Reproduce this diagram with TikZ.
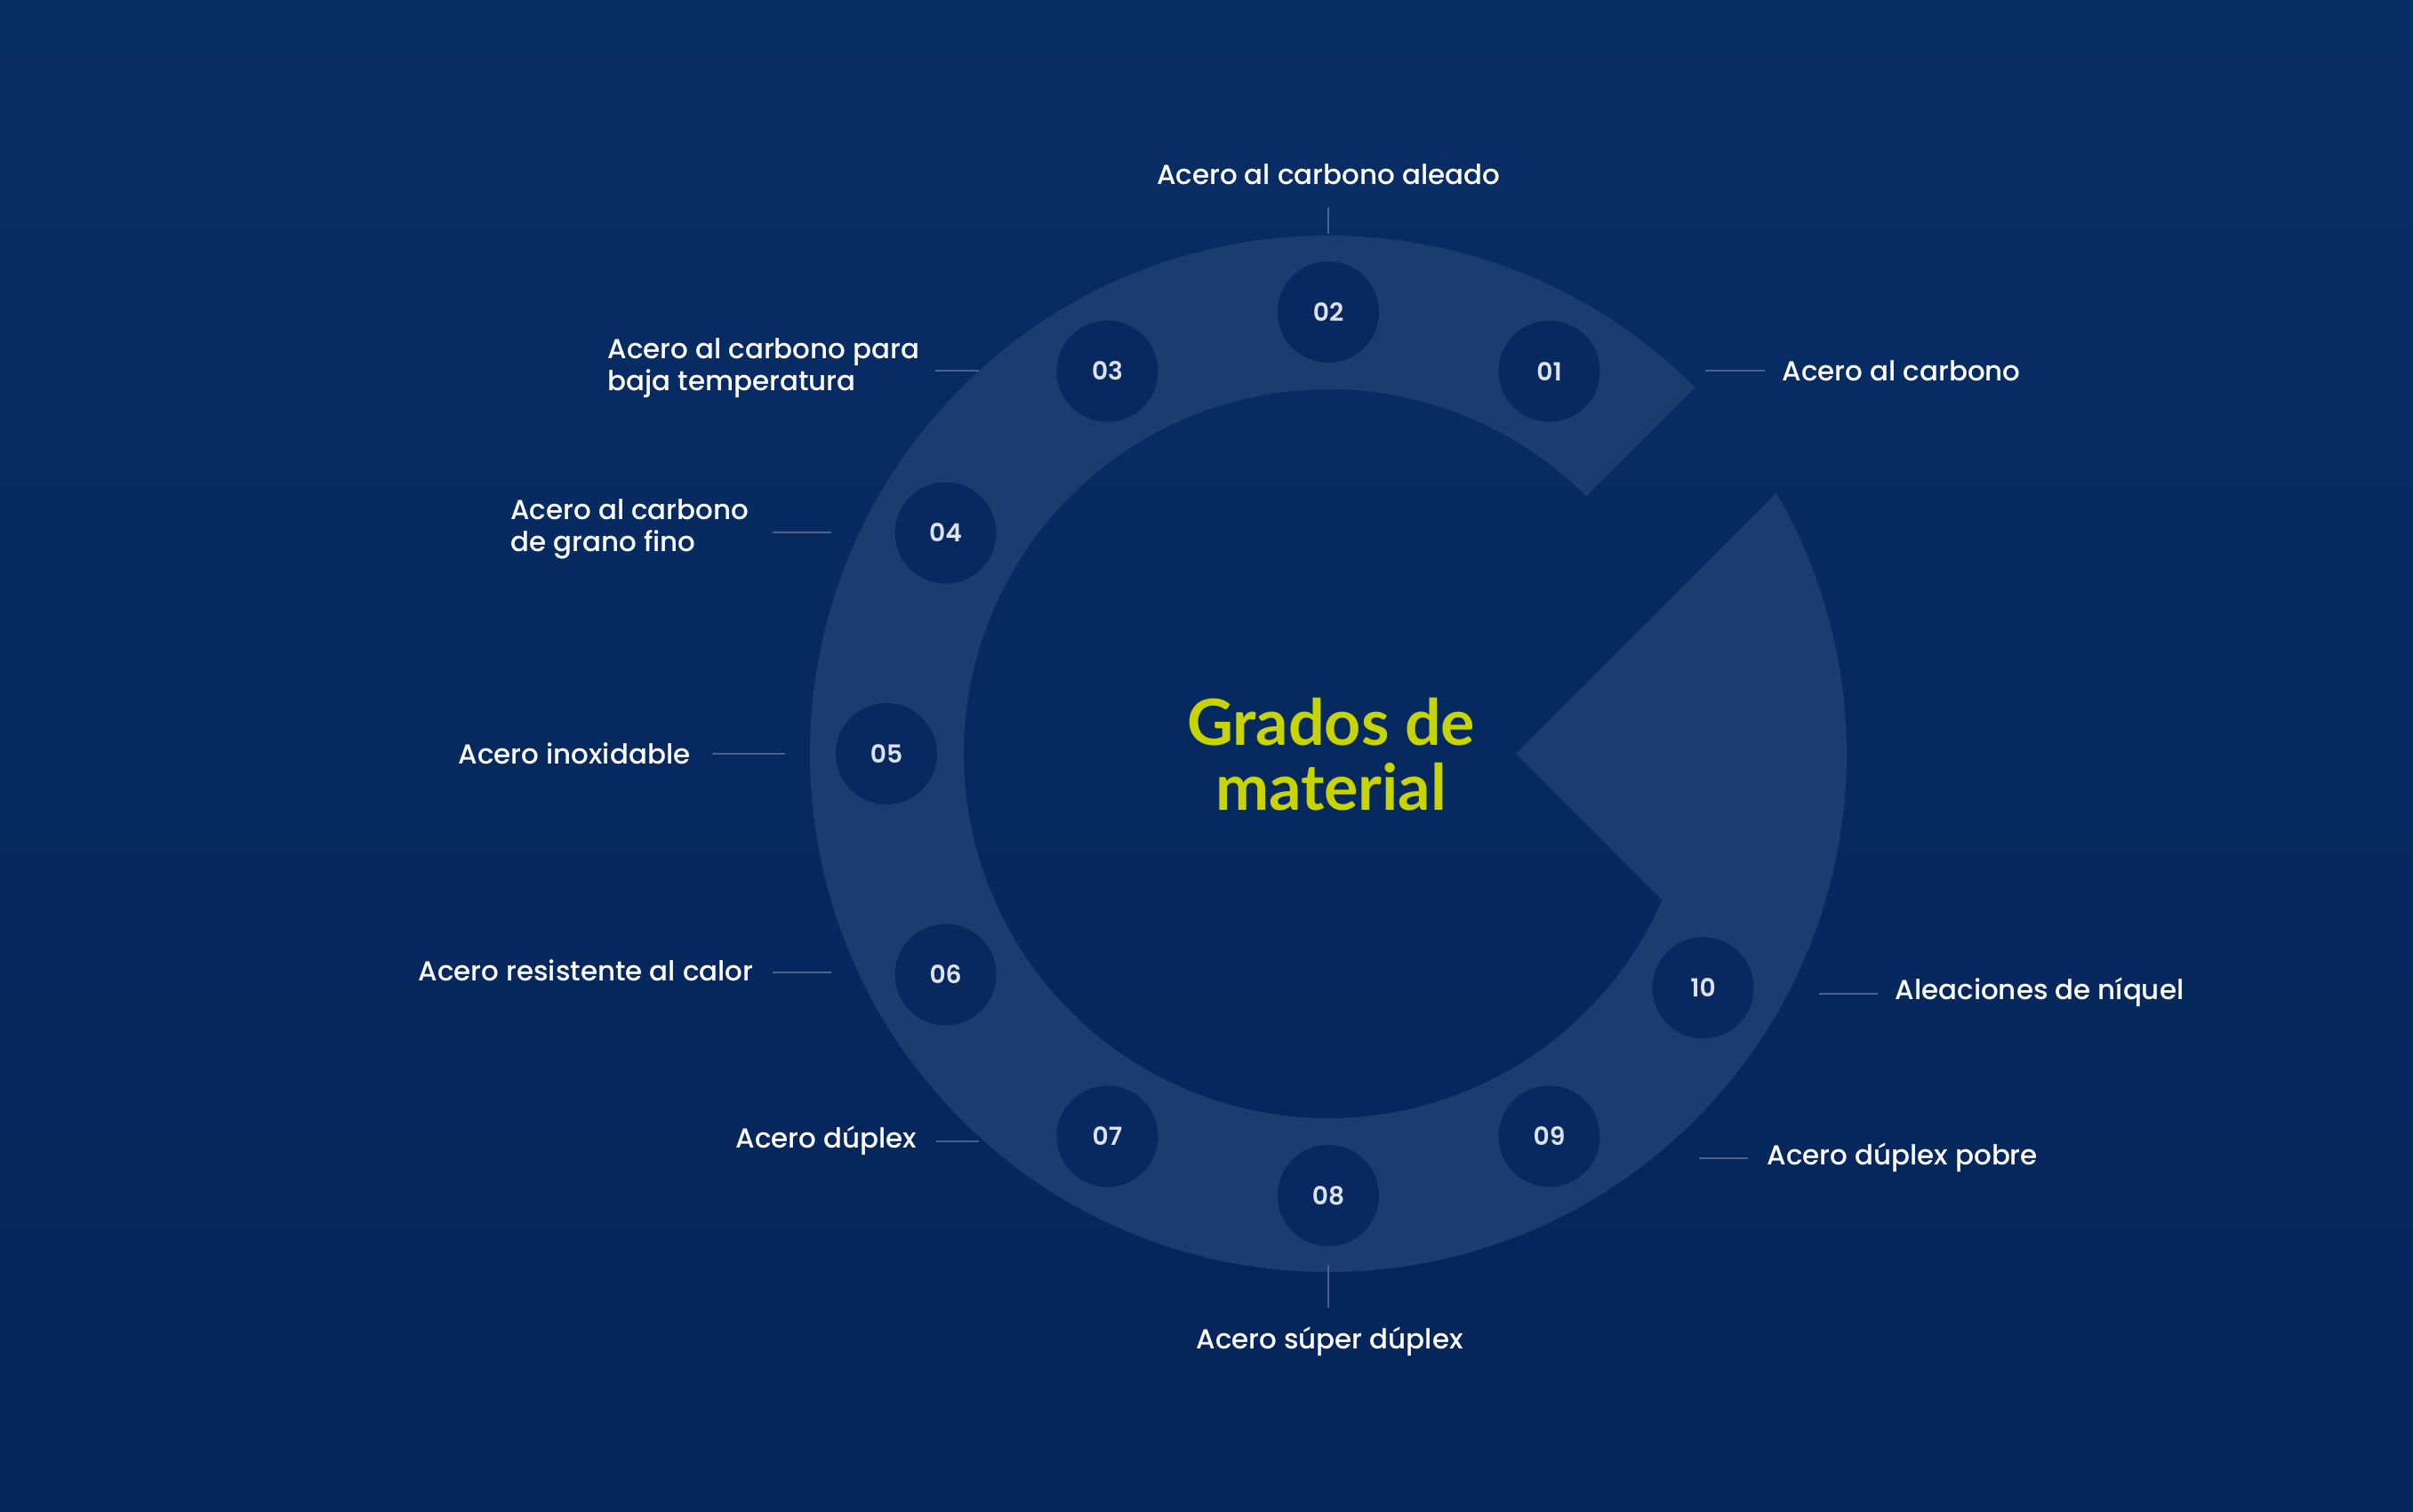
\documentclass[tikz,border=0pt]{standalone}
\usepackage{fontspec}
\usetikzlibrary{calc}
\newfontfamily\lblfont{Poppins Medium}
\newfontfamily\numfont{Poppins SemiBold}
\newfontfamily\ttlfont{Lato}
\definecolor{bgblue}{HTML}{06295F}
\definecolor{bgtop}{HTML}{082E66}
\definecolor{bgbot}{HTML}{05255A}
\definecolor{ringblue}{HTML}{1C3B6F}
\definecolor{dotblue}{HTML}{07295F}
\definecolor{numgrey}{HTML}{DDE1EA}
\definecolor{leadgrey}{HTML}{4A6290}
\definecolor{limegreen}{HTML}{C8D400}
\begin{document}
\begin{tikzpicture}

\tikzset{numdot/.style={circle, fill=dotblue, minimum size=1.14cm, inner sep=0pt, text=numgrey, font=\numfont\fontsize{8}{9}\selectfont},
lbl/.style={inner sep=0pt, text=white, align=left, font=\lblfont\fontsize{8.8}{10.3}\selectfont},
%thin leader from the ring to its label
leader/.style={draw=leadgrey, line width=0.5pt}}

\shade [top color=bgtop, bottom color=bgbot, middle color=bgblue] (0,0) rectangle (27.14,17);
\useasboundingbox (0,0) rectangle (27.14,17);

\coordinate (c) at (14.94,8.52);

\fill [ringblue] ($(c)+(45:5.83)$) arc [start angle=45, end angle=390.2, radius=5.83] -- ($(c)+(2.11,0)$) -- ($(c)+(-23.7:4.10)$) arc [start angle=-23.7, end angle=-315, radius=4.10] -- cycle;

\node [numdot] (n01) at ($(c)+(60:4.97)$) {01};
\node [numdot] (n02) at ($(c)+(90:4.97)$) {02};
\node [numdot] (n03) at ($(c)+(120:4.97)$) {03};
\node [numdot] (n04) at ($(c)+(150:4.97)$) {04};
\node [numdot] (n05) at ($(c)+(180:4.97)$) {05};
\node [numdot] (n06) at ($(c)+(210:4.97)$) {06};
\node [numdot] (n07) at ($(c)+(240:4.97)$) {07};
\node [numdot] (n08) at ($(c)+(270:4.97)$) {08};
\node [numdot] (n09) at ($(c)+(300:4.97)$) {09};
\node [numdot] (n10) at ($(c)+(328:4.97)$) {10};

\node [align=center, text=limegreen, font=\ttlfont\bfseries\fontsize{20.4}{20.8}\selectfont] (ttl) at (14.97,8.51) {Grados de\\material};

\node [lbl, anchor=west] (t01) at (20.04,12.83) {Acero al carbono};
\node [lbl, anchor=south] (t02) at (14.94,14.92) {Acero al carbono aleado};
\node [lbl, anchor=east] (t03) at (10.35,12.86) {Acero al carbono para\\baja temperatura};
\node [lbl, anchor=east] (t04) at (8.43,11.05) {Acero al carbono\\de grano fino};
\node [lbl, anchor=east] (t05) at (7.77,8.52) {Acero inoxidable};
\node [lbl, anchor=east] (t06) at (8.48,6.08) {Acero resistente al calor};
\node [lbl, anchor=east] (t07) at (10.32,4.17) {Acero dúplex};
\node [lbl, anchor=base] (t08) at (14.955,1.83) {Acero súper dúplex};
\node [lbl, anchor=west] (t09) at (19.87,3.98) {Acero dúplex pobre};
\node [lbl, anchor=west] (t10) at (21.31,5.84) {Aleaciones de níquel};

\coordinate (e01) at (19.18,12.83);
\coordinate (e02) at (14.94,14.37);
\coordinate (e03) at (11.01,12.83);
\coordinate (e04) at (9.35,11.01);
\coordinate (e05) at (8.83,8.52);
\coordinate (e06) at (9.35,6.06);
\coordinate (e07) at (11.01,4.16);
\coordinate (e08) at (14.94,2.77);
\coordinate (e09) at (19.11,3.97);
\coordinate (e10) at (20.46,5.82);

\draw [leader, shorten >=0.19cm] (e01) -- (e01 -| t01.west);
\draw [leader, shorten >=0.25cm] (e02) -- (e02 |- t02.south);
\draw [leader, shorten >=0.17cm] (e03) -- (e03 -| t03.east);
\draw [leader, shorten >=0.26cm] (e04) -- (e04 -| t04.east);
\draw [leader, shorten >=0.24cm] (e05) -- (e05 -| t05.east);
\draw [leader, shorten >=0.21cm] (e06) -- (e06 -| t06.east);
\draw [leader, shorten >=0.21cm] (e07) -- (e07 -| t07.east);
\draw [leader, shorten >=0.21cm] (e08) -- (e08 |- t08.north);
\draw [leader, shorten >=0.21cm] (e09) -- (e09 -| t09.west);
\draw [leader, shorten >=0.19cm] (e10) -- (e10 -| t10.west);

\end{tikzpicture}
\end{document}
